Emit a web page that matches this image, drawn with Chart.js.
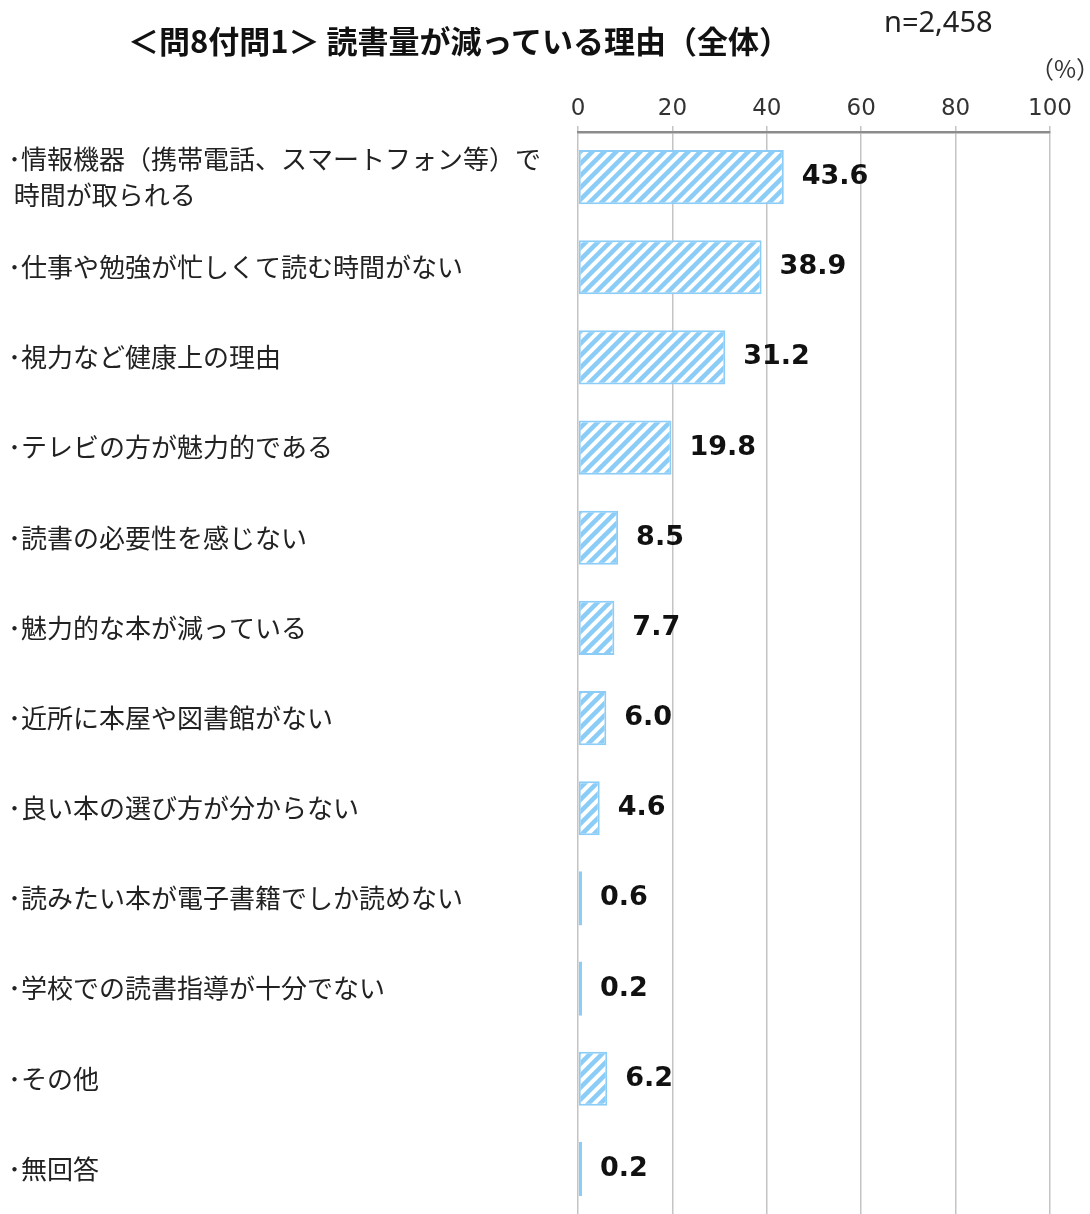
<!DOCTYPE html>
<html>
<head>
<meta charset="utf-8">
<script src="https://cdn.jsdelivr.net/npm/chart.js@4"></script>
<style>
  body { margin: 0; background: #fff; }
  #wrap { position: relative; width: 1090px; height: 1214px; }
  #chart { position: absolute; left: 0; top: 0; }
  .txt { position: absolute; font-family: "Noto Sans CJK JP", sans-serif; color: #111; white-space: nowrap; }
  #title { left: 128px; top: 17px; font-size: 31px; font-weight: 700; }
  #n { left: 884px; top: 1px; font-size: 29px; color: #222; font-family: "Noto Sans", sans-serif; }
  #pct { left: 1030px; top: 50px; font-size: 24px; color: #333; }
</style>
</head>
<body>
<div id="wrap">
  <canvas id="chart" width="1090" height="1214"></canvas>
  <div id="title" class="txt">＜問8付問1＞ 読書量が減っている理由（全体）</div>
  <div id="n" class="txt">n=2,458</div>
  <div id="pct" class="txt">（%）</div>
</div>
<script>
const labels = [
  ['･情報機器（携帯電話、スマートフォン等）で', ' 時間が取られる'],
  '･仕事や勉強が忙しくて読む時間がない',
  '･視力など健康上の理由',
  '･テレビの方が魅力的である',
  '･読書の必要性を感じない',
  '･魅力的な本が減っている',
  '･近所に本屋や図書館がない',
  '･良い本の選び方が分からない',
  '･読みたい本が電子書籍でしか読めない',
  '･学校での読書指導が十分でない',
  '･その他',
  '･無回答'
];
const values = [43.6, 38.9, 31.2, 19.8, 8.5, 7.7, 6.0, 4.6, 0.6, 0.2, 6.2, 0.2];
const tickValues = [0, 20, 40, 60, 80, 100];

const blue = '#8ccdf7';

function makeHatch() {
  const c = document.createElement('canvas');
  c.width = 12;
  c.height = 12;
  const g = c.getContext('2d');
  g.fillStyle = '#fff';
  g.fillRect(0, 0, 12, 12);
  g.strokeStyle = blue;
  g.lineWidth = 4.5;
  g.beginPath();
  g.moveTo(-3, 15); g.lineTo(15, -3);
  g.moveTo(-9, 9); g.lineTo(9, -9);
  g.moveTo(3, 21); g.lineTo(21, 3);
  g.stroke();
  return g.createPattern(c, 'repeat');
}

const valueLabels = {
  id: 'valueLabels',
  afterDatasetsDraw(chart) {
    const ctx = chart.ctx;
    const meta = chart.getDatasetMeta(0);
    ctx.save();
    ctx.font = 'bold 27px "DejaVu Sans"';
    ctx.fillStyle = '#111';
    ctx.textBaseline = 'middle';
    ctx.textAlign = 'left';
    meta.data.forEach((bar, i) => {
      ctx.fillText(values[i].toFixed(1), bar.x + 18, bar.y);
    });
    ctx.restore();
  }
};

new Chart(document.getElementById('chart'), {
  type: 'bar',
  data: {
    labels: labels,
    datasets: [{
      data: values,
      backgroundColor: makeHatch(),
      borderColor: blue,
      borderWidth: 2,
      borderSkipped: false,
      minBarLength: 4,
      barPercentage: 0.6,
      categoryPercentage: 1
    }]
  },
  plugins: [valueLabels],
  options: {
    indexAxis: 'y',
    responsive: false,
    animation: false,
    layout: { padding: { left: 8, right: 40, top: 90, bottom: 0 } },
    plugins: { legend: { display: false }, tooltip: { enabled: false } },
    scales: {
      x: {
        position: 'top',
        min: 0,
        max: 100,
        afterBuildTicks(scale) {
          scale.ticks = tickValues.map(v => ({ value: v }));
        },
        afterFit(scale) { scale.height = 42; },
        grid: { color: '#c4c4c4', lineWidth: 1.5, tickLength: 6 },
        border: { color: '#8c8c8c', width: 2.5 },
        ticks: {
          color: '#333',
          padding: 3,
          font: { family: 'DejaVu Sans', size: 23 }
        }
      },
      y: {
        afterFit(scale) {
          scale.width = 570;
          scale.paddingTop = 0;
          scale.paddingBottom = 0;
        },
        grid: { display: false },
        border: { display: false },
        ticks: {
          crossAlign: 'far',
          color: '#222',
          padding: 0,
          font: { family: '"Noto Sans CJK JP"', size: 26, lineHeight: 1.35 }
        }
      }
    }
  }
});
</script>
</body>
</html>
